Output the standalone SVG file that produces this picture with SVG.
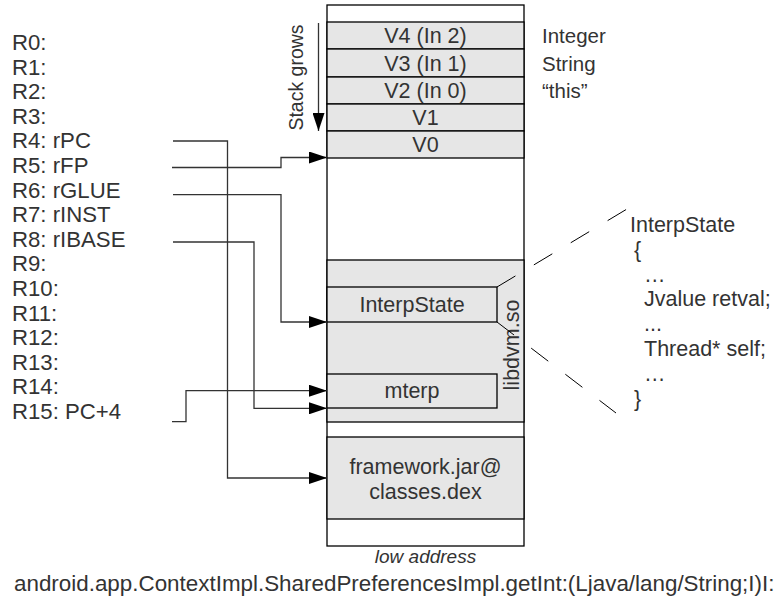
<svg xmlns="http://www.w3.org/2000/svg" width="784" height="600" viewBox="0 0 784 600">
<defs>
<marker id="arr" markerUnits="userSpaceOnUse" markerWidth="18" markerHeight="12" refX="18" refY="6" orient="auto">
<path d="M0,0 L18,6 L0,12 z" fill="#000"/>
</marker>
<style>
text{font-family:"Liberation Sans",Arial,sans-serif;fill:#333;font-size:21.5px}
.r{font-size:22.2px}
.c{text-anchor:middle}
.g{fill:#e6e6e6;stroke:#000;stroke-width:1.3}
.w{fill:#fff;stroke:#000;stroke-width:1.3}
.ln{fill:none;stroke:#333;stroke-width:1.3}
.d{fill:none;stroke:#000;stroke-width:1;stroke-dasharray:21.5 21.5}
</style>
</defs>
<rect width="784" height="600" fill="#fff"/>

<g id="registers">
<text class="r" x="12" y="50">R0:</text>
<text class="r" x="12" y="74.6">R1:</text>
<text class="r" x="12" y="99.2">R2:</text>
<text class="r" x="12" y="123.8">R3:</text>
<text class="r" x="12" y="148.4">R4: rPC</text>
<text class="r" x="12" y="173">R5: rFP</text>
<text class="r" x="12" y="197.6">R6: rGLUE</text>
<text class="r" x="12" y="222.2">R7: rINST</text>
<text class="r" x="12" y="246.8">R8: rIBASE</text>
<text class="r" x="12" y="271.4">R9:</text>
<text class="r" x="12" y="296">R10:</text>
<text class="r" x="12" y="320.6">R11:</text>
<text class="r" x="12" y="345.2">R12:</text>
<text class="r" x="12" y="369.8">R13:</text>
<text class="r" x="12" y="394.4">R14:</text>
<text class="r" x="12" y="419">R15: PC+4</text>
</g>

<g id="memory">
<rect class="w" x="327" y="5" width="197" height="541"/>
<rect class="g" x="327" y="22" width="197" height="27"/>
<rect class="g" x="327" y="49" width="197" height="28"/>
<rect class="g" x="327" y="77" width="197" height="27"/>
<rect class="g" x="327" y="104" width="197" height="27"/>
<rect class="g" x="327" y="131" width="197" height="27"/>
<text class="c" x="425.5" y="43">V4 (In 2)</text>
<text class="c" x="425.5" y="70.5">V3 (In 1)</text>
<text class="c" x="425.5" y="98">V2 (In 0)</text>
<text class="c" x="425.5" y="125">V1</text>
<text class="c" x="425.5" y="152">V0</text>
</g>

<g id="libdvm">
<rect class="g" x="327" y="260" width="197" height="162"/>
<text class="c" transform="translate(519,345) rotate(-90)">libdvm.so</text>
</g>
<g id="interpstate">
<rect class="g" x="327" y="287" width="170" height="35"/>
<text class="c" x="412" y="312">InterpState</text>
</g>
<g id="mterp">
<rect class="g" x="327" y="374" width="170" height="34"/>
<text class="c" x="412" y="398">mterp</text>
</g>
<g id="framework">
<rect class="g" x="327" y="437" width="197" height="82"/>
<text class="c" x="425.5" y="474">framework.jar@</text>
<text class="c" x="425.5" y="499">classes.dex</text>
</g>
<g id="lowaddr">
<text class="c" x="425.5" y="563" style="font-style:italic;font-size:19px">low address</text>
</g>

<g id="stackgrows">
<text class="c" transform="translate(303,77.5) rotate(-90)" style="font-size:19.5px">Stack grows</text>
</g>

<g id="types">
<text x="542" y="43" style="font-size:20.5px">Integer</text>
<text x="542" y="70.5" style="font-size:20.5px">String</text>
<text x="542" y="98" style="font-size:20.5px">“this”</text>
</g>

<g id="interpstate-def">
<text x="630" y="232">InterpState</text>
<text x="634" y="256.8">{</text>
<text x="644" y="281.6">…</text>
<text x="644" y="306.4">Jvalue retval;</text>
<text x="644" y="331.2">...</text>
<text x="644" y="356">Thread* self;</text>
<text x="644" y="380.8">…</text>
<text x="634" y="405.6">}</text>
</g>

<g id="signature">
<text x="14" y="591" style="font-size:22.4px">android.app.ContextImpl.SharedPreferencesImpl.getInt:(Ljava/lang/String;I)I:</text>
</g>

<g id="connectors">
<path class="ln" d="M318.5,23 V131" marker-end="url(#arr)"/>
<path class="ln" d="M173,141 H227.5 V478 H327" marker-end="url(#arr)"/>
<path class="ln" d="M172,167.5 H281 V157.5 H327" marker-end="url(#arr)"/>
<path class="ln" d="M173,194.7 H281 V322 H327" marker-end="url(#arr)"/>
<path class="ln" d="M173,242 H254 V408.3 H327" marker-end="url(#arr)"/>
<path class="ln" d="M172,421.7 H186 V390.7 H327" marker-end="url(#arr)"/>
<path class="d" d="M497,287 L627,209"/>
<path class="d" d="M497,322 L616,413"/>
</g>
</svg>
